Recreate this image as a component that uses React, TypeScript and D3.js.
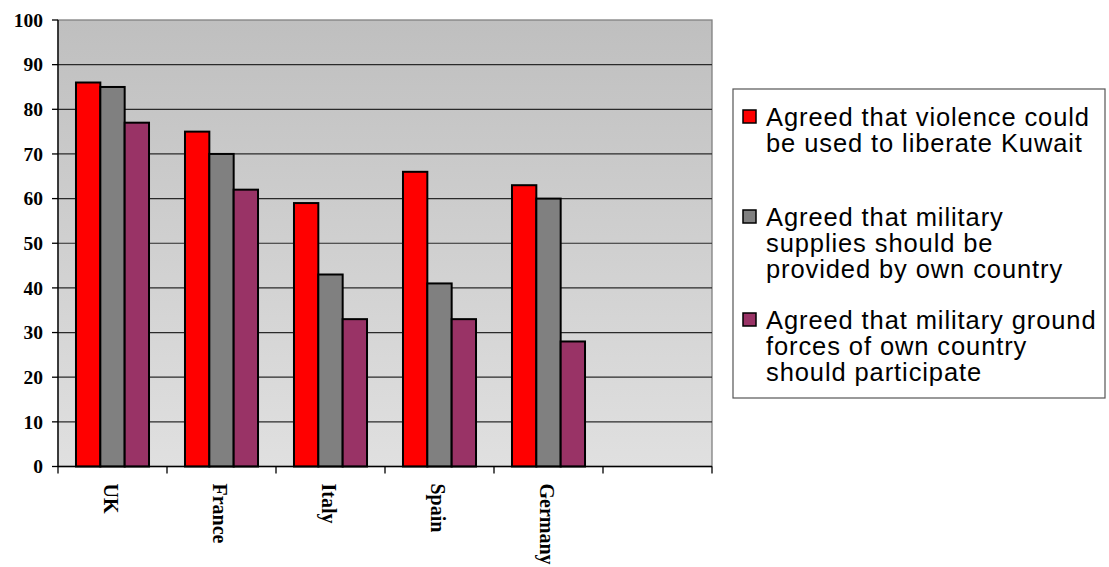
import React from 'react';
import * as d3 from 'd3';

const countries = ['UK', 'France', 'Italy', 'Spain', 'Germany'];
const violence = [86, 75, 59, 66, 63];
const supplies = [85, 70, 43, 41, 60];
const groundForces = [77, 62, 33, 33, 28];
const seriesNames = [
  ['Agreed that violence could', 'be used to liberate Kuwait'],
  ['Agreed that military', 'supplies should be', 'provided by own country'],
  ['Agreed that military ground', 'forces of own country', 'should participate'],
];
const seriesColors = ['#ff0000', '#808080', '#993366'];
const yTicks = [0, 10, 20, 30, 40, 50, 60, 70, 80, 90, 100];

const W = 1109;
const H = 567;
const plot = { left: 58, top: 20, right: 712, bottom: 466.5 };
// one extra empty slot after Germany, as in the source chart
const slots = [...countries, ''];

const App: React.FC = () => {
  const series = [violence, supplies, groundForces];

  const x = d3.scaleBand<string>()
    .domain(slots)
    .range([plot.left, plot.right])
    .paddingInner(0)
    .paddingOuter(0);

  const y = d3.scaleLinear().domain([0, 100]).range([plot.bottom, plot.top]);

  const groupW = x.bandwidth() * 0.67;
  const inner = d3.scaleBand<number>()
    .domain([0, 1, 2])
    .range([0, groupW])
    .padding(0);

  const slotEdges = slots.map((s) => x(s) as number).concat(plot.right);

  const legendX = 733;
  const legendY = 89;
  const legendW = 372;
  const legendH = 309;
  const entryTop = [117, 217, 320];
  const lineH = 26;

  return (
    <svg width={W} height={H} style={{ position: 'absolute', left: 0, top: 0, display: 'block' }}>
      <defs>
        <linearGradient id="plotBg" x1="0" y1="0" x2="0" y2="1">
          <stop offset="0%" stopColor="#bfbfbf" />
          <stop offset="100%" stopColor="#e0e0e0" />
        </linearGradient>
      </defs>
      <rect x={0} y={0} width={W} height={H} fill="#ffffff" />

      {/* plot area */}
      <rect
        x={plot.left}
        y={plot.top}
        width={plot.right - plot.left}
        height={plot.bottom - plot.top}
        fill="url(#plotBg)"
        stroke="#808080"
        strokeWidth={1.3}
      />

      {/* gridlines */}
      {yTicks.filter((t) => t > 0 && t < 100).map((t) => (
        <line key={t} x1={plot.left} x2={plot.right} y1={y(t)} y2={y(t)} stroke="#2a2a2a" strokeWidth={1.2} />
      ))}

      {/* bars */}
      {countries.map((c, i) => {
        const gx = (x(c) as number) + (x.bandwidth() - groupW) / 2;
        return (
          <g key={c} transform={`translate(${gx},0)`}>
            {series.map((vals, s) => (
              <rect
                key={s}
                x={inner(s) as number}
                y={y(vals[i])}
                width={inner.bandwidth()}
                height={plot.bottom - y(vals[i])}
                fill={seriesColors[s]}
                stroke="#000"
                strokeWidth={2}
              />
            ))}
          </g>
        );
      })}

      {/* y axis */}
      <line x1={plot.left} x2={plot.left} y1={plot.top} y2={plot.bottom} stroke="#000" strokeWidth={1.3} />
      {yTicks.map((t) => (
        <g key={t}>
          <line x1={plot.left - 6} x2={plot.left} y1={y(t)} y2={y(t)} stroke="#000" strokeWidth={1.3} />
          <text
            x={plot.left - 15}
            y={y(t)}
            dy="0.35em"
            textAnchor="end"
            fontFamily="'Liberation Serif', 'Times New Roman', serif"
            fontWeight="bold"
            fontSize={19.5}
            fill="#000"
          >
            {t}
          </text>
        </g>
      ))}

      {/* x axis */}
      <line x1={plot.left} x2={plot.right} y1={plot.bottom} y2={plot.bottom} stroke="#000" strokeWidth={1.3} />
      {slotEdges.map((ex, i) => (
        <line key={i} x1={ex} x2={ex} y1={plot.bottom} y2={plot.bottom + 7} stroke="#000" strokeWidth={1.3} />
      ))}
      {countries.map((c) => {
        const cx = (x(c) as number) + x.bandwidth() / 2 - 2;
        return (
          <text
            key={c}
            transform={`translate(${cx},${plot.bottom + 17}) rotate(90)`}
            dy="0.35em"
            textAnchor="start"
            fontFamily="'Liberation Serif', 'Times New Roman', serif"
            fontWeight="bold"
            fontSize={20}
            fill="#000"
          >
            {c}
          </text>
        );
      })}

      {/* legend */}
      <rect x={legendX} y={legendY} width={legendW} height={legendH} fill="#fff" stroke="#555" strokeWidth={1.2} />
      {seriesNames.map((lines, s) => (
        <g key={s}>
          <rect
            x={743}
            y={entryTop[s] - 7}
            width={13}
            height={13}
            fill={seriesColors[s]}
            stroke="#000"
            strokeWidth={1.5}
          />
          {lines.map((ln, k) => (
            <text
              key={k}
              x={766}
              y={entryTop[s] + k * lineH}
              dy="0.35em"
              fontFamily="'Liberation Sans', Arial, sans-serif"
              fontSize={25.5}
              letterSpacing={0.9}
              fill="#000"
            >
              {ln}
            </text>
          ))}
        </g>
      ))}
    </svg>
  );
};

export default App;
